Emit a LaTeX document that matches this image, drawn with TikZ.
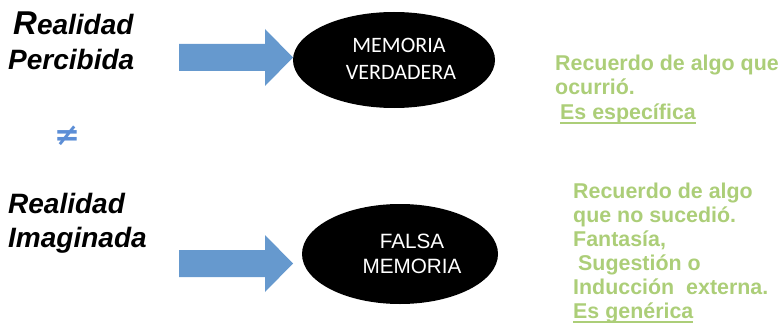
\documentclass[tikz,border=0pt]{standalone}
\usepackage{fontspec}
\setmainfont{Liberation Sans}
\newfontfamily\carlito{Carlito}
\newfontfamily\dejavu{DejaVu Sans}
\usetikzlibrary{shapes.geometric}
\definecolor{arrowblue}{RGB}{102,153,206}
\definecolor{neqblue}{RGB}{92,142,214}
\definecolor{notegreen}{RGB}{172,206,120}
\newcommand\myul[1]{\leavevmode\setbox0\hbox{#1}\rlap{\copy0}\rule[-4.5pt]{\wd0}{1.6pt}}
\begin{document}
\begin{tikzpicture}[x=1pt,y=-1pt,
  realtext/.style={anchor=base west,inner sep=0,font=\fontsize{28}{28}\selectfont\bfseries\itshape},
  notetext/.style={anchor=base west,inner sep=0,text=notegreen,font=\fontsize{21.4}{24}\selectfont\bfseries},
  blockarrow/.style={fill=arrowblue},
  memoval/.style={ellipse,fill=black,inner sep=0},
  memotext/.style={anchor=base,inner sep=0,text=white}]
\useasboundingbox (0,0) rectangle (783,334);

% left labels
\node[realtext] (r1) at (13,35) {{\fontsize{33}{33}\selectfont R}ealidad};
\node[realtext] (p1) at (8,70) {Percibida};
\node[realtext] (r2) at (8,213) {Realidad};
\node[realtext] (i2) at (8,247) {Imaginada};
\node[text=neqblue,inner sep=0,font=\dejavu\bfseries\fontsize{31}{31}\selectfont] (neq) at (67,136) {≠};

% block arrows
\coordinate (a1) at (179,57.5);
\coordinate (a2) at (179,263.5);
\fill[blockarrow] (a1) ++(0,-13.5) -- ++(86,0) -- ++(0,-15) -- ++(28,28.5) -- ++(-28,28.5) -- ++(0,-15) -- ++(-86,0) -- cycle;
\fill[blockarrow] (a2) ++(0,-13.5) -- ++(86,0) -- ++(0,-15) -- ++(28,28.5) -- ++(-28,28.5) -- ++(0,-15) -- ++(-86,0) -- cycle;

% ellipses
\node[memoval,minimum width=202pt,minimum height=96pt] (m1) at (394,60) {};
\node[memoval,minimum width=196pt,minimum height=100pt] (m2) at (400,254) {};
\node[memotext,font=\carlito\fontsize{22}{22}\selectfont] (m1a) at (399,53) {MEMORIA};
\node[memotext,font=\carlito\fontsize{22}{22}\selectfont] (m1b) at (401,80) {VERDADERA};
\node[memotext,font=\fontsize{20.7}{20.7}\selectfont] (m2a) at (412,248) {FALSA};
\node[memotext,font=\fontsize{20.7}{20.7}\selectfont] (m2b) at (412,273) {MEMORIA};

% notes
\node[notetext] (n1a) at (555,71) {Recuerdo de algo que};
\node[notetext] (n1b) at (555,95) {ocurrió.};
\node[notetext] (n1c) at (560,119) {\myul{Es específica}};
\node[notetext] (n2a) at (573,198) {Recuerdo de algo};
\node[notetext] (n2b) at (573,222) {que no sucedió.};
\node[notetext] (n2c) at (573,246) {Fantasía,};
\node[notetext] (n2d) at (578,270) {Sugestión o};
\node[notetext] (n2e) at (573,294) {Inducción\hspace{6pt} externa.};
\node[notetext] (n2f) at (573,318) {\myul{Es genérica}};
\end{tikzpicture}
\end{document}
